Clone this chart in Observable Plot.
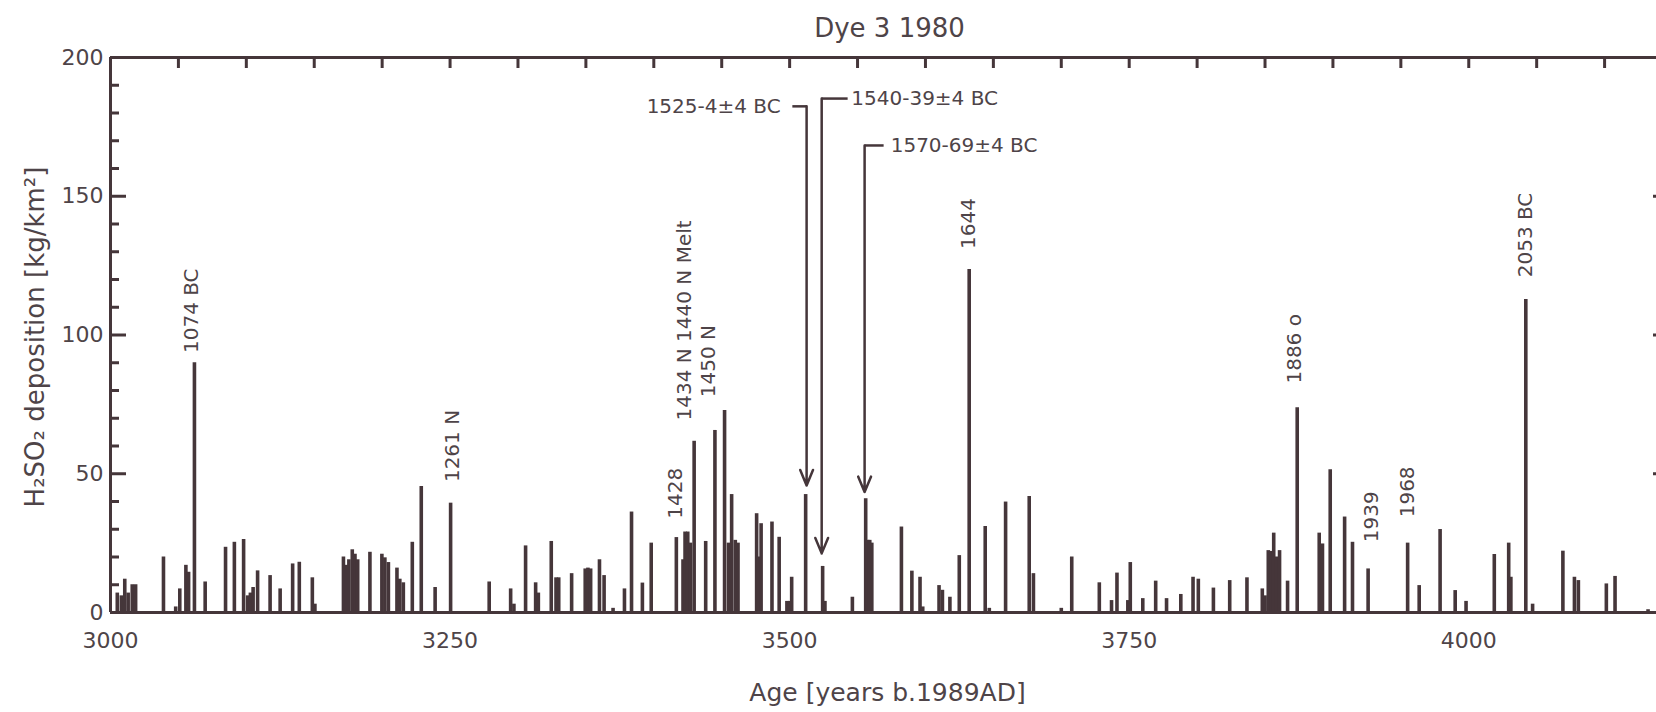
<!DOCTYPE html>
<html>
<head>
<meta charset="utf-8">
<script src="https://cdn.jsdelivr.net/npm/d3@7"></script>
<script src="https://cdn.jsdelivr.net/npm/@observablehq/plot@0.6"></script>
<style>
  html, body { margin: 0; padding: 0; background: #ffffff; }
  #chart svg { display: block; }
</style>
</head>
<body>
<div id="chart"></div>
<script>
// ---- data ----
const spikeYears = [
  3005, 3008, 3010.5, 3013, 3016, 3018.5, 3039, 3048, 3051, 3055.5, 3057.5, 3061.8, 3069.7,
  3084.7, 3091.2, 3098, 3101, 3103, 3105, 3108.3, 3117.5, 3124.9, 3134.1, 3139, 3148.6, 3150.5,
  3171.5, 3173.5, 3175.5, 3178, 3180, 3182, 3191, 3199.8, 3202, 3204.6, 3210.9, 3213, 3215.6,
  3222.2, 3228.8, 3239, 3250.4, 3278.8, 3294.6, 3297, 3305.6, 3313, 3315, 3324.5, 3328, 3330,
  3339.5, 3349.5, 3351.5, 3353.5, 3360, 3363.4, 3370, 3378.4, 3383.6, 3391.6, 3398.1,
  3416.6, 3421.5, 3423, 3425, 3427, 3429.7, 3438.2, 3445, 3452.1, 3455, 3457.3, 3460, 3462,
  3475.7, 3477, 3479, 3487, 3492.3, 3498, 3500, 3501.5, 3511.8, 3524.3, 3526, 3546.2,
  3556, 3557.5, 3559, 3560.5, 3582.3, 3590, 3596, 3598, 3610, 3612.5, 3618, 3624.9, 3632.2,
  3644, 3647, 3659, 3676.4, 3679.5, 3700, 3707.7, 3728, 3737, 3741, 3749, 3750.8, 3760,
  3769.5, 3777.5, 3788, 3797, 3800.9, 3812, 3824, 3836.7, 3848, 3850, 3852.4, 3854.5, 3856.4,
  3858.5, 3860.7, 3866.6, 3873.7, 3889.9, 3892.3, 3898, 3908.6, 3914.4, 3925.9, 3955, 3963.5,
  3978.9, 3990, 3998, 4018.8, 4029.4, 4031, 4042, 4047, 4069.3, 4077.8, 4080.7, 4101.3, 4107.7, 4132
];
const spikeValues = [
  7, 6, 12, 7, 10, 10, 20, 2, 8.5, 17, 14.5, 90, 11,
  23.5, 25.3, 26.3, 6, 7, 9, 15, 13.3, 8.5, 17.5, 18.1, 12.5, 3,
  20, 17, 19, 22.6, 21, 19, 21.7, 21, 19.7, 18, 16, 12, 10.7,
  25.3, 45.4, 9, 39.4, 11, 8.5, 3, 24, 10.7, 7, 25.6, 12.5, 12.5,
  14, 15.7, 16, 15.7, 19, 13.3, 1.5, 8.5, 36.2, 10.6, 25,
  27, 19, 29, 29, 25, 61.7, 25.6, 65.6, 72.8, 25, 42.5, 26, 25,
  35.6, 20, 32, 32.6, 27.1, 4, 4, 12.7, 42.5, 16.6, 4, 5.5,
  41, 26, 26, 25, 30.8, 14.9, 12.7, 2, 9.7, 8, 5.5, 20.5, 123.6,
  31, 1.5, 39.8, 41.8, 14, 1.5, 20, 10.7, 4.3, 14.2, 4.3, 18, 5,
  11.3, 5, 6.5, 12.7, 12, 8.8, 11.5, 12.5, 8.5, 6, 22.3, 22, 28.6,
  20, 22.3, 11.3, 73.8, 28.6, 24.7, 51.4, 34.4, 25.3, 15.7, 25, 9.7,
  29.9, 7.9, 4, 20.9, 25, 12.7, 112.8, 3, 22.1, 12.7, 11.5, 10.3, 13, 1
];

const xTickValues = [3000, 3250, 3500, 3750, 4000];
const yTickValues = [0, 50, 100, 150, 200];

const eventLabels = ["1074 BC", "1261 N", "1428", "1434 N 1440 N Melt", "1450 N", "1644", "1886 o", "1939", "1968", "2053 BC"];
const eventYears  = [3059.7, 3251.7, 3416, 3423, 3440.5, 3631.7, 3871.9, 3928.4, 3954.8, 4041.5];
const eventLevels = [93.5, 47, 33.8, 69.2, 77.6, 131, 82.5, 25.3, 34.3, 120.8];

const arrowLabels     = ["1525-4±4 BC", "1540-39±4 BC", "1570-69±4 BC"];
const arrowYears      = [3512.5, 3523.6, 3555.2];
const arrowTips       = [45.8, 21.3, 43.4];
const arrowLevels     = [182.4, 185.2, 168.3];
const arrowLeaderEnds = [3502, 3542.7, 3569.2];
const arrowTextYears  = [3493.4, 3545.4, 3574.4];

// ---- build tables ----
const spikes = spikeYears.map((year, i) => ({year, value: spikeValues[i]}));
const events = eventLabels.map((label, i) => ({label, year: eventYears[i], level: eventLevels[i]}));
const arrows = arrowLabels.map((label, i) => ({
  label, year: arrowYears[i], tip: arrowTips[i], level: arrowLevels[i],
  leaderEnd: arrowLeaderEnds[i], textYear: arrowTextYears[i]
}));

const ink = "#45363a";
const textInk = "#4e4448";
const W = 1656, H = 712, mL = 110, mR = 0, mT = 57, mB = 100;
const frameW = W - mL - mR, frameH = H - mT - mB;

const minorTicks = d3.range(10, 200, 10).filter(v => v % 50 !== 0);
const topTicks = d3.range(3050, 4150, 50);

const chart = Plot.plot({
  width: W, height: H,
  marginLeft: mL, marginRight: mR, marginTop: mT, marginBottom: mB,
  style: {fontFamily: "DejaVu Sans", fontSize: "20px", color: textInk, background: "#ffffff", overflow: "hidden"},
  x: {domain: [3000, 4150], range: [110, 1672], label: null},
  y: {domain: [0, 200], label: null},
  marks: [
    // spikes
    Plot.ruleX(spikes, {x: "year", y1: 0, y2: "value", stroke: ink, strokeWidth: 3.6}),
    // frame lines
    Plot.ruleY([0], {stroke: ink, strokeWidth: 3}),
    Plot.ruleY([200], {stroke: ink, strokeWidth: 3}),
    Plot.ruleX([3000], {stroke: ink, strokeWidth: 3}),
    // inward ticks on left axis
    Plot.tickY([50, 100, 150], {y: d => d, stroke: ink, strokeWidth: 3, insetRight: frameW - 16}),
    Plot.tickY(minorTicks, {y: d => d, stroke: ink, strokeWidth: 3, insetRight: frameW - 9}),
    // tips of right-axis ticks at the image edge
    Plot.tickY([50, 100, 150], {y: d => d, stroke: ink, strokeWidth: 3, insetLeft: frameW - 3}),
    // inward ticks on top axis
    Plot.tickX(topTicks, {x: d => d, stroke: ink, strokeWidth: 3, insetBottom: frameH - 11}),
    // axes labels
    Plot.axisY({ticks: yTickValues, anchor: "left", tickSize: 0, tickPadding: 7, fontSize: 22, fill: textInk, tickFormat: d => String(d), label: null}),
    Plot.axisX({ticks: xTickValues, anchor: "bottom", tickSize: 0, tickPadding: 20, fontSize: 22, fill: textInk, tickFormat: d => String(d), label: null}),
    // event labels (rotated)
    Plot.text(events, {x: "year", y: "level", text: "label", rotate: -90, textAnchor: "start", lineAnchor: "middle", fontSize: 20, fill: textInk}),
    // arrows with leaders
    Plot.link(arrows, {x1: "leaderEnd", x2: "year", y1: "level", y2: "level", stroke: ink, strokeWidth: 2.5}),
    Plot.arrow(arrows, {x1: "year", x2: "year", y1: "level", y2: "tip", stroke: ink, strokeWidth: 2.5, headLength: 10, headAngle: 45}),
    Plot.text(arrows.filter((d, i) => i === 0), {x: "textYear", y: "level", text: "label", textAnchor: "end", lineAnchor: "middle", fontSize: 20, fill: textInk}),
    Plot.text(arrows.filter((d, i) => i > 0), {x: "textYear", y: "level", text: "label", textAnchor: "start", lineAnchor: "middle", fontSize: 20, fill: textInk}),
    // title and axis titles
    Plot.text(["Dye 3 1980"], {text: d => d, frameAnchor: "top", textAnchor: "middle", lineAnchor: "middle", dy: -29, dx: 6, fontSize: 26, fill: textInk}),
    Plot.text(["Age [years b.1989AD]"], {text: d => d, frameAnchor: "bottom", textAnchor: "middle", lineAnchor: "middle", dy: 80, dx: 4, fontSize: 25, fill: textInk}),
    Plot.text(["H₂SO₂ deposition [kg/km²]"], {text: d => d, frameAnchor: "left", textAnchor: "middle", lineAnchor: "middle", dx: -75, dy: 2, rotate: -90, fontSize: 26, fill: textInk})
  ]
});
document.getElementById("chart").appendChild(chart);
</script>
</body>
</html>
